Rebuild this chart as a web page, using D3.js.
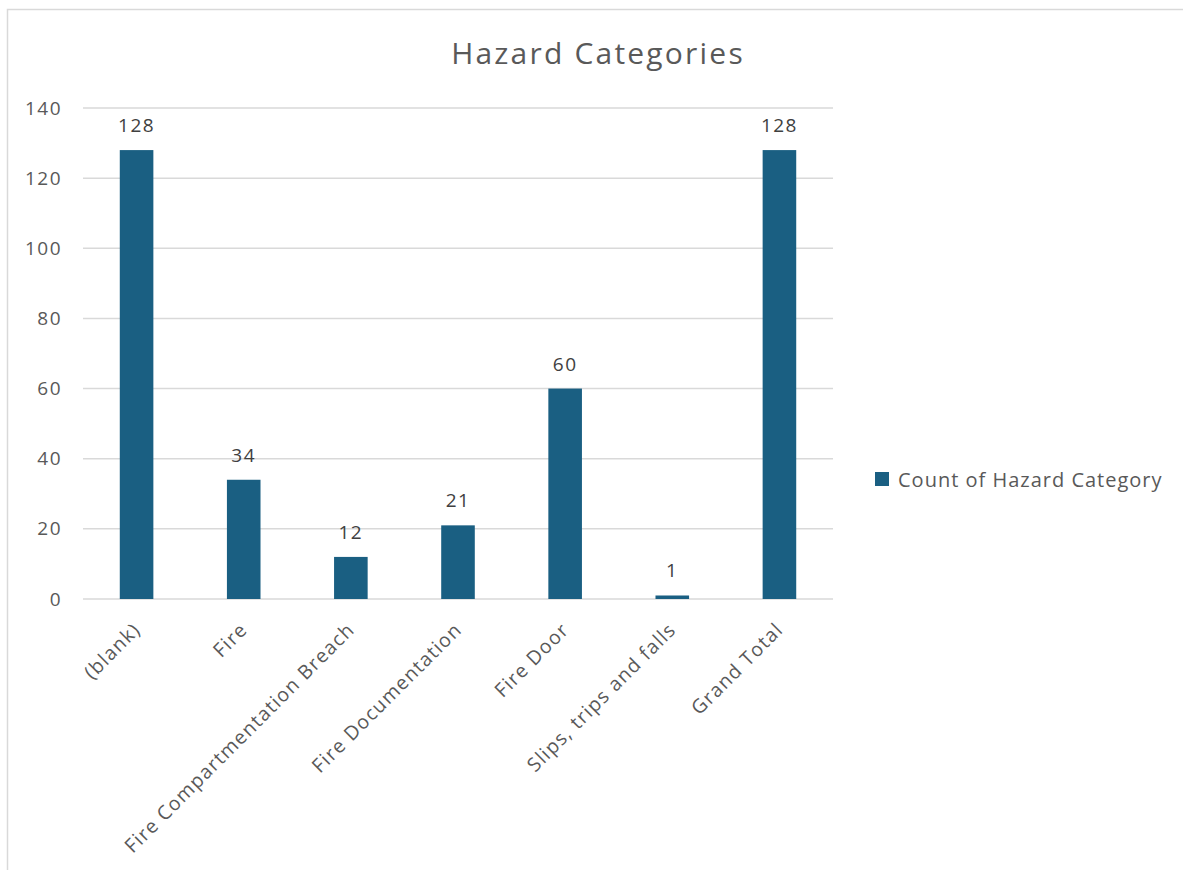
<!DOCTYPE html>
<html>
<head>
<meta charset="utf-8">
<script src="https://cdn.jsdelivr.net/npm/d3@7"></script>
<style>
  html, body { margin: 0; padding: 0; background: #ffffff; }
  svg { display: block; font-family: "Open Sans", "Noto Sans", sans-serif; }
</style>
</head>
<body>
<svg id="chart" width="1183" height="870"></svg>
<script>
// Hazard category counts
const categories = ["(blank)", "Fire", "Fire Compartmentation Breach", "Fire Documentation", "Fire Door", "Slips, trips and falls", "Grand Total"];
const counts = [128, 34, 12, 21, 60, 1, 128];
const yTicks = [0, 20, 40, 60, 80, 100, 120, 140];
const seriesName = "Count of Hazard Category";
const chartTitle = "Hazard Categories";

const barColor = "#1a5f82";
const textColor = "#595959";
const gridColor = "#d9d9d9";
const fontStack = "\"Open Sans\", \"Noto Sans\", sans-serif";

const svg = d3.select("#chart");

// Chart frame (extends past the right and bottom edges)
svg.append("rect")
  .attr("x", 7.5).attr("y", 9.5)
  .attr("width", 1200).attr("height", 900)
  .attr("fill", "#ffffff")
  .attr("stroke", "#d9d9d9").attr("stroke-width", 1.5);

const plot = { left: 83, right: 833, top: 108, bottom: 599 };

const x = d3.scaleBand().domain(categories).range([plot.left, plot.right]).padding(0);
const y = d3.scaleLinear().domain([0, 140]).range([plot.bottom, plot.top]);
const barW = x.bandwidth() / 3.19;

// Title
svg.append("text")
  .attr("x", 598).attr("y", 64)
  .attr("text-anchor", "middle")
  .attr("fill", textColor)
  .attr("font-size", 30)
  .attr("letter-spacing", 2.2)
  .text(chartTitle);

// Horizontal gridlines
svg.append("g").selectAll("line")
  .data(yTicks)
  .join("line")
  .attr("x1", plot.left).attr("x2", plot.right)
  .attr("y1", d => y(d)).attr("y2", d => y(d))
  .attr("stroke", gridColor).attr("stroke-width", 1.5);

// Y-axis tick labels
const yAxis = d3.axisLeft(y).tickValues(yTicks).tickSize(0).tickPadding(21);
const gy = svg.append("g").attr("transform", `translate(${plot.left},0)`).call(yAxis);
gy.select(".domain").remove();
gy.selectAll("text")
  .attr("fill", textColor)
  .attr("font-size", 19)
  .attr("letter-spacing", 1.5)
  .attr("font-family", fontStack);

// Bars
svg.append("g").selectAll("rect")
  .data(categories)
  .join("rect")
  .attr("x", d => x(d) + x.bandwidth() / 2 - barW / 2)
  .attr("width", barW)
  .attr("y", (d, i) => y(counts[i]))
  .attr("height", (d, i) => y(0) - y(counts[i]))
  .attr("fill", barColor);

// Value labels
svg.append("g").selectAll("text")
  .data(categories)
  .join("text")
  .attr("x", d => x(d) + x.bandwidth() / 2)
  .attr("y", (d, i) => y(counts[i]) - 18)
  .attr("text-anchor", "middle")
  .attr("fill", "#404040")
  .attr("font-size", 19)
  .attr("letter-spacing", 1.5)
  .text((d, i) => counts[i]);

// X-axis category labels, rotated
const xAxis = d3.axisBottom(x).tickSize(0).tickPadding(0);
const gx = svg.append("g").attr("transform", `translate(0,${plot.bottom})`).call(xAxis);
gx.select(".domain").remove();
gx.selectAll("text")
  .attr("fill", textColor)
  .attr("font-size", 19.5)
  .attr("letter-spacing", 1.2)
  .attr("font-family", fontStack)
  .attr("text-anchor", "end")
  .attr("dy", null)
  .attr("y", 0)
  .attr("transform", "translate(5,32) rotate(-45)");

// Legend
const legend = svg.append("g").attr("transform", "translate(875,472)");
legend.append("rect").attr("width", 14).attr("height", 14).attr("fill", barColor);
legend.append("text")
  .attr("x", 23).attr("y", 14.5)
  .attr("fill", textColor)
  .attr("font-size", 20)
  .attr("letter-spacing", 1)
  .text(seriesName);
</script>
</body>
</html>
